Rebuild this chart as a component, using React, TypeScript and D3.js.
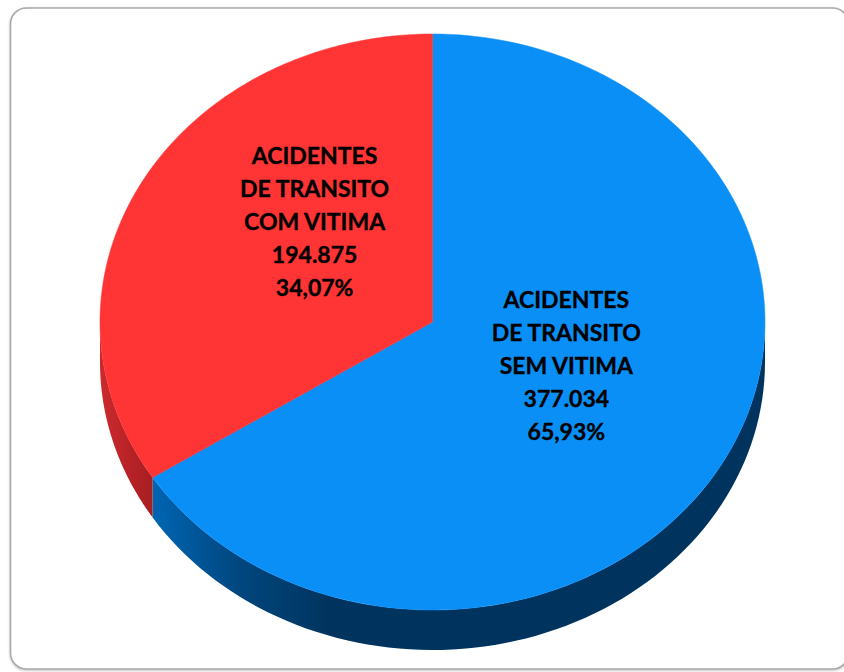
import React from "react";
import * as d3 from "d3";

const categories = ["SEM VITIMA", "COM VITIMA"];
const values = [377034, 194875];
const labelLines = [
  ["ACIDENTES", "DE TRANSITO", "SEM VITIMA"],
  ["ACIDENTES", "DE TRANSITO", "COM VITIMA"],
];
const topColors = ["#0A8FF7", "#FF3434"];

const W = 844;
const H = 672;
const cx = 432.5;
const cy = 322;
const rx = 332.5;
const ry = 288;
const depth = 40;
const labelNudge = [
  [-12, -25],
  [28, -31],
];

function pt(a: number, dy = 0): [number, number] {
  return [cx + rx * Math.sin(a), cy - ry * Math.cos(a) + dy];
}

function arcPts(a0: number, a1: number, dy = 0, n = 80): [number, number][] {
  const out: [number, number][] = [];
  for (let i = 0; i <= n; i++) out.push(pt(a0 + ((a1 - a0) * i) / n, dy));
  return out;
}

export default function App() {
  const total = d3.sum(values);
  const pie = d3.pie<number>().sort(null).startAngle(0).endAngle(2 * Math.PI);
  const arcs = pie(values);
  const line = d3.line();
  const arcGen = d3.arc<any>().innerRadius(0).outerRadius(1);
  const fmtNum = (v: number) => d3.format(",")(v).replace(/,/g, ".");
  const fmtPct = (v: number) => (v * 100).toFixed(2).replace(".", ",") + "%";

  const sides: { d: string; fill: string }[] = [];
  arcs.forEach((a, i) => {
    const s = Math.max(a.startAngle, Math.PI / 2);
    const e = Math.min(a.endAngle, (3 * Math.PI) / 2);
    if (e > s) {
      const top = arcPts(s, e);
      const bot = arcPts(e, s, depth);
      sides.push({ d: line([...top, ...bot])! + "Z", fill: `url(#side${i})` });
    }
  });

  return (
    <svg width={W} height={H} style={{ position: "absolute", left: 0, top: 0 }}>
      <defs>
        <linearGradient id="side0" gradientUnits="userSpaceOnUse" x1={150} y1={0} x2={330} y2={0}>
          <stop offset="0" stopColor="#0066B4" />
          <stop offset="0.5" stopColor="#00467E" />
          <stop offset="1" stopColor="#00345E" />
        </linearGradient>
        <linearGradient id="side1" gradientUnits="userSpaceOnUse" x1={100} y1={0} x2={155} y2={0}>
          <stop offset="0" stopColor="#CC2A2E" />
          <stop offset="1" stopColor="#A51D21" />
        </linearGradient>
        <filter id="sh" x="-5%" y="-5%" width="110%" height="110%">
          <feDropShadow dx="0" dy="1" stdDeviation="1.2" floodColor="#000" floodOpacity="0.25" />
        </filter>
      </defs>
      <rect x={0} y={0} width={W} height={H} fill="#fff" />
      <rect x={10.5} y={8} width={838} height={661} rx={16} fill="#fff" stroke="#a8a8a8" strokeWidth={1.6} filter="url(#sh)" />
      {sides.map((s, i) => (
        <path key={"s" + i} d={s.d} fill={s.fill} />
      ))}
      {arcs.map((a, i) => {
        const pts: [number, number][] = [[cx, cy], ...arcPts(a.startAngle, a.endAngle, 0, 160)];
        return <path key={"t" + i} d={line(pts)! + "Z"} fill={topColors[i]} stroke={topColors[i]} strokeWidth={0.5} />;
      })}
      {arcs.map((a, i) => {
        const [ux, uy] = arcGen.centroid(a);
        const x = cx + ux * rx + labelNudge[i][0];
        const y = cy + uy * ry + labelNudge[i][1];
        const lines = [...labelLines[i], fmtNum(values[i]), fmtPct(values[i] / total)];
        return (
          <text key={"l" + i} x={x} y={y} textAnchor="middle" fontFamily="Lato, 'Open Sans', sans-serif" fontWeight="bold" fontSize={23} fill="#000" stroke="#000" strokeWidth={0.35}>
            {lines.map((t, j) => (
              <tspan key={j} x={x} y={y + (j - 2) * 33 + 8}>
                {t}
              </tspan>
            ))}
          </text>
        );
      })}
    </svg>
  );
}
